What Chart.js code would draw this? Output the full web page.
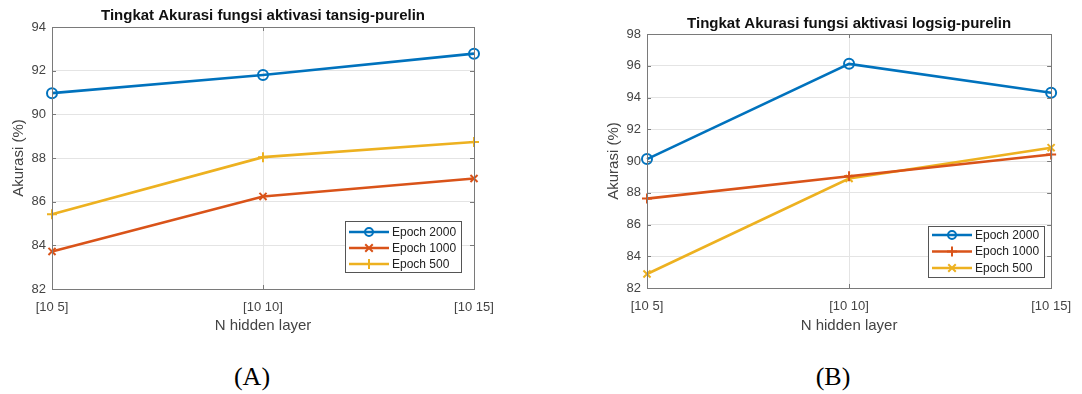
<!DOCTYPE html>
<html><head><meta charset="utf-8">
<script src="https://cdn.jsdelivr.net/npm/chart.js@4/dist/chart.umd.min.js"></script>
<style>
body{margin:0;background:#fff;width:1082px;height:394px;position:relative;overflow:hidden}
canvas{position:absolute;top:0}
.cap{position:absolute;font-family:'Liberation Serif','Times New Roman',serif;font-size:26px;color:#000;transform:translate(-50%,-50%);white-space:nowrap}
</style></head><body>
<canvas id="cA" width="540" height="340" style="left:0"></canvas>
<canvas id="cB" width="542" height="340" style="left:540px"></canvas>
<div class="cap" style="left:252px;top:377px">(A)</div>
<div class="cap" style="left:833px;top:377px">(B)</div>
<script>
'use strict';

// data
const hiddenLabels = ['[10 5]', '[10 10]', '[10 15]'];
const seriesNames = ['Epoch 2000', 'Epoch 1000', 'Epoch 500'];
const tansig2000 = [90.97, 91.80, 92.78];
const tansig1000 = [83.72, 86.24, 87.06];
const tansig500  = [85.42, 88.04, 88.73];
const logsig2000 = [90.12, 96.12, 94.30];
const logsig1000 = [87.63, 89.04, 90.41];
const logsig500  = [82.88, 88.90, 90.84];
const yTicksA = [82, 84, 86, 88, 90, 92, 94];
const yTicksB = [82, 84, 86, 88, 90, 92, 94, 96, 98];

const BLUE = '#0072BD', RED = '#D95319', YEL = '#EDB120';
const FONT = "'Liberation Sans', Arial, Helvetica, sans-serif";
const TXT = '#444';
const GRID = '#e4e4e4';
const EDGE = '#7a7a7a';

function marker(ctx, style, x, y, r) {
  ctx.beginPath();
  if (style === 'circle') {
    ctx.arc(x, y, r, 0, Math.PI * 2);
  } else if (style === 'cross') {
    ctx.moveTo(x - r, y); ctx.lineTo(x + r, y);
    ctx.moveTo(x, y - r); ctx.lineTo(x, y + r);
  } else {
    const d = r * 0.75;
    ctx.moveTo(x - d, y - d); ctx.lineTo(x + d, y + d);
    ctx.moveTo(x - d, y + d); ctx.lineTo(x + d, y - d);
  }
  ctx.stroke();
}

const matlabBox = {
  id: 'matlabBox',
  afterDatasetsDraw(chart, args, o) {
    const { ctx, chartArea: a, scales: { x, y } } = chart;
    ctx.save();
    ctx.strokeStyle = EDGE; ctx.lineWidth = 1;
    ctx.strokeRect(Math.round(a.left) + 0.5, Math.round(a.top) + 0.5, Math.round(a.right - a.left), Math.round(a.bottom - a.top));
    ctx.beginPath();
    o.yTicks.forEach(v => {
      const py = Math.round(y.getPixelForValue(v)) + 0.5;
      ctx.moveTo(a.left, py); ctx.lineTo(a.left + 4, py);
      ctx.moveTo(a.right, py); ctx.lineTo(a.right - 4, py);
    });
    hiddenLabels.forEach((l, i) => {
      const px = Math.round(x.getPixelForValue(i)) + 0.5;
      ctx.moveTo(px, a.bottom); ctx.lineTo(px, a.bottom - 4);
      ctx.moveTo(px, a.top); ctx.lineTo(px, a.top + 4);
    });
    ctx.stroke();
    ctx.restore();
  },
  afterDraw(chart, args, o) {
    const { ctx, chartArea: a } = chart;
    ctx.save();
    // title
    ctx.fillStyle = '#111';
    ctx.font = 'bold ' + o.titleSize + 'px ' + FONT;
    ctx.textAlign = 'center'; ctx.textBaseline = 'middle';
    ctx.fillText(o.title, (a.left + a.right) / 2, o.titleY);
    // legend
    const L = o.legend;
    ctx.fillStyle = '#fff';
    ctx.fillRect(L.x, L.y, L.w, L.h);
    ctx.strokeStyle = '#555'; ctx.lineWidth = 1;
    ctx.strokeRect(L.x + 0.5, L.y + 0.5, L.w, L.h);
    chart.data.datasets.forEach((ds, i) => {
      const ry = L.y + L.row0 + i * L.gap;
      ctx.strokeStyle = ds.borderColor; ctx.lineWidth = 2.6;
      ctx.beginPath(); ctx.moveTo(L.x + L.lx0, ry); ctx.lineTo(L.x + L.lx1, ry); ctx.stroke();
      ctx.lineWidth = 2;
      marker(ctx, ds.pointStyle, L.x + (L.lx0 + L.lx1) / 2, ry, ds.pointStyle === 'circle' ? 4 : 5);
      ctx.fillStyle = '#222';
      ctx.font = '12px ' + FONT;
      ctx.textAlign = 'left'; ctx.textBaseline = 'middle';
      ctx.fillText(ds.label, L.x + L.tx, ry + 0.5);
    });
    ctx.restore();
  }
};

function buildChart(id, box, sets, yTicks, opts) {
  const cv = document.getElementById(id);
  const W = cv.width, H = cv.height;
  return new Chart(cv.getContext('2d'), {
    type: 'line',
    data: {
      labels: hiddenLabels,
      datasets: sets.map(s => ({
        label: s.label, data: s.data, borderColor: s.color, borderWidth: 2.6,
        pointStyle: s.marker, pointRadius: 5,
        pointBorderWidth: 2, pointBorderColor: s.color, pointBackgroundColor: 'rgba(0,0,0,0)',
        tension: 0, clip: false
      }))
    },
    options: {
      responsive: false, animation: false, events: [],
      layout: { padding: { left: 0, top: box.top, right: W - box.right, bottom: 0 } },
      plugins: {
        legend: { display: false }, tooltip: { enabled: false },
        matlabBox: { yTicks, title: opts.title, titleY: opts.titleY, titleSize: opts.titleSize, legend: opts.legend }
      },
      scales: {
        x: {
          offset: false,
          grid: { color: GRID, drawTicks: false },
          border: { display: false },
          ticks: { color: TXT, font: { family: FONT, size: 13 }, padding: box.xTickPad, maxRotation: 0, autoSkip: false },
          title: { display: true, text: 'N hidden layer', color: TXT, font: { family: FONT, size: 15 }, padding: { top: 0, bottom: box.xTitlePad } },
          afterFit: s => { s.height = H - box.bottom; }
        },
        y: {
          min: yTicks[0], max: yTicks[yTicks.length - 1],
          grid: { color: GRID, drawTicks: false },
          border: { display: false },
          ticks: { stepSize: 2, color: TXT, font: { family: FONT, size: 13 }, padding: 6 },
          title: { display: true, text: 'Akurasi (%)', color: TXT, font: { family: FONT, size: 15 }, padding: { top: box.yTitleX - 9, bottom: 0 } },
          afterFit: s => { s.width = box.left; }
        }
      }
    },
    plugins: [matlabBox]
  });
}

buildChart('cA',
  { left: 52, right: 474, top: 27, bottom: 289, xTickPad: 11, xTitlePad: 5, yTitleX: 19 },
  [
    { label: seriesNames[0], data: tansig2000, color: BLUE, marker: 'circle' },
    { label: seriesNames[1], data: tansig1000, color: RED, marker: 'crossRot' },
    { label: seriesNames[2], data: tansig500, color: YEL, marker: 'cross' }
  ],
  yTicksA,
  { title: 'Tingkat Akurasi fungsi aktivasi tansig-purelin', titleY: 16, titleSize: 15,
    legend: { x: 345, y: 221, w: 116, h: 51, row0: 11, gap: 16, lx0: 4, lx1: 44, tx: 47 } });

buildChart('cB',
  { left: 107, right: 517, top: 34, bottom: 288, xTickPad: 11, xTitlePad: 5, yTitleX: 74 },
  [
    { label: seriesNames[0], data: logsig2000, color: BLUE, marker: 'circle' },
    { label: seriesNames[1], data: logsig1000, color: RED, marker: 'cross' },
    { label: seriesNames[2], data: logsig500, color: YEL, marker: 'crossRot' }
  ],
  yTicksB,
  { title: 'Tingkat Akurasi fungsi aktivasi logsig-purelin', titleY: 24, titleSize: 15,
    legend: { x: 388, y: 226, w: 116, h: 51, row0: 9, gap: 16.5, lx0: 4, lx1: 44, tx: 47 } });
</script>
</body></html>
